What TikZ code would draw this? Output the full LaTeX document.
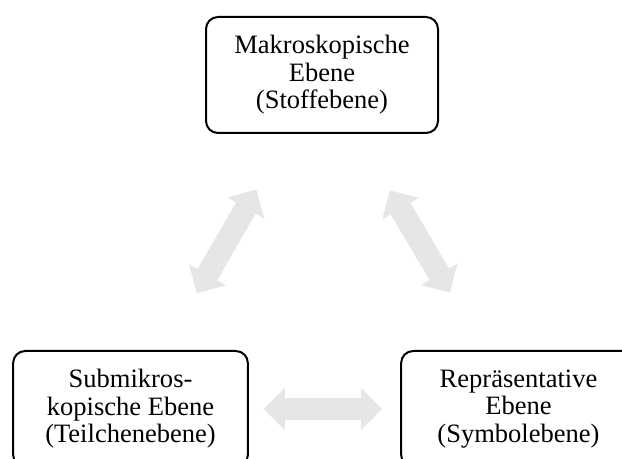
\documentclass[tikz,border=0pt]{standalone}
\usepackage{fontspec}
\setmainfont{Liberation Serif}
\usetikzlibrary{arrows.meta}
\definecolor{ArrowGray}{RGB}{230,230,230}

\begin{document}
\begin{tikzpicture}[x=0.75pt, y=-0.75pt,
  levelbox/.style={draw, line width=1.5pt, rounded corners=9pt, align=center,
    minimum height=87pt, font=\fontsize{19.9}{20.6}\selectfont},
  twoway/.style={ArrowGray, line width=17pt,
    {Triangle[width=31pt,length=16pt]}-{Triangle[width=31pt,length=16pt]}}]
  % Frame of the picture
  \useasboundingbox (0,0) rectangle (622,459);
  \clip (0,0) rectangle (622,459);

  % The three levels
  \node[levelbox, minimum width=174pt] (makro) at (322,75) {Makroskopische\\Ebene\\(Stoffebene)};
  \node[levelbox, minimum width=176pt] (submikro) at (130.5,409) {Submikros-\\kopische Ebene\\(Teilchenebene)};
  \node[levelbox, minimum width=176pt] (repr) at (518.5,409) {Repräsentative\\Ebene\\(Symbolebene)};

  % Double arrows between the levels
  \draw[twoway, shorten <=49pt, shorten >=48pt] (submikro) -- (makro);
  \draw[twoway, shorten <=49pt, shorten >=50pt] (makro) -- (repr);
  \draw[twoway, shorten <=11pt, shorten >=13.5pt] (submikro.east) -- (repr.west);
\end{tikzpicture}
\end{document}
